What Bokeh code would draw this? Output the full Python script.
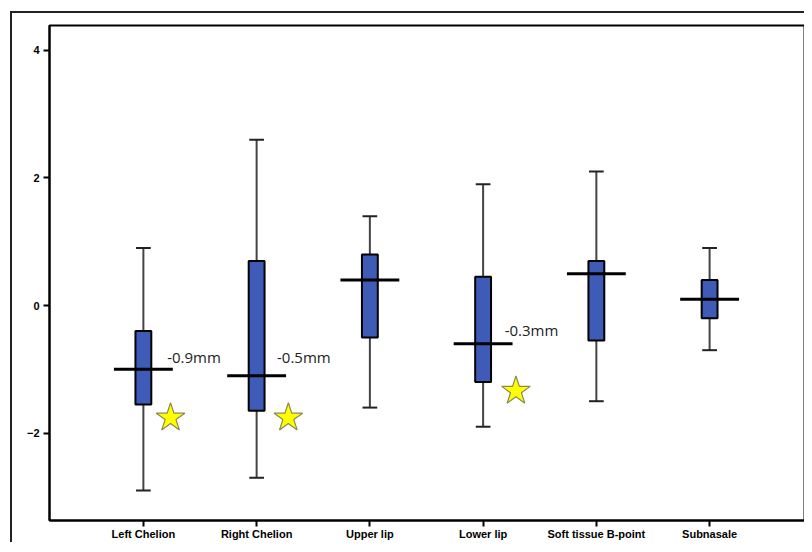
from bokeh.plotting import figure
from bokeh.models import FixedTicker, Range1d, ColumnDataSource
from bokeh.core.properties import value
from bokeh.embed import file_html
from bokeh.resources import INLINE

categories = ["Left Chelion", "Right Chelion", "Upper lip", "Lower lip", "Soft tissue B-point", "Subnasale"]
whisker_low = [-2.9, -2.7, -1.6, -1.9, -1.5, -0.7]
q1 = [-1.55, -1.65, -0.5, -1.2, -0.55, -0.2]
median = [-1.0, -1.1, 0.4, -0.6, 0.5, 0.1]
q3 = [-0.4, 0.7, 0.8, 0.45, 0.7, 0.4]
whisker_high = [0.9, 2.6, 1.4, 1.9, 2.1, 0.9]

label_texts = ["-0.9mm", "-0.5mm", "-0.3mm"]
label_x = [1.21, 2.18, 4.19]
label_y = [-0.8, -0.8, -0.39]

star_x = [1.24, 2.28, 4.29]
star_y = [-1.76, -1.76, -1.34]

y_ticks = [-2, 0, 2, 4]

xs = list(range(1, len(categories) + 1))
box_w = 0.14
cap_w = 0.13
med_w = 0.52

src = ColumnDataSource(dict(
    x=xs, lo=whisker_low, q1=q1, med=median, q3=q3, hi=whisker_high,
    cap_l=[x - cap_w / 2 for x in xs], cap_r=[x + cap_w / 2 for x in xs],
    med_l=[x - med_w / 2 for x in xs], med_r=[x + med_w / 2 for x in xs],
))

p = figure(width=794, height=531, output_backend="svg", toolbar_location=None,
           x_range=Range1d(0.171, 6.838), y_range=Range1d(-3.37, 4.39),
           min_border_left=37, min_border_right=2, min_border_top=12, min_border_bottom=24)
p.margin = (11, 0, 0, 10)
p.styles = {"border-top": "2px solid #222", "border-left": "2px solid #222", "box-sizing": "border-box"}

p.xgrid.visible = False
p.ygrid.visible = False
p.outline_line_color = "black"
p.outline_line_width = 2
p.background_fill_color = "white"
p.border_fill_color = "white"

# whiskers
p.segment(x0="x", y0="lo", x1="x", y1="q1", source=src, line_color="#444444", line_width=2)
p.segment(x0="x", y0="q3", x1="x", y1="hi", source=src, line_color="#444444", line_width=2)
p.segment(x0="cap_l", y0="lo", x1="cap_r", y1="lo", source=src, line_color="#222222", line_width=2)
p.segment(x0="cap_l", y0="hi", x1="cap_r", y1="hi", source=src, line_color="#222222", line_width=2)
# boxes
p.vbar(x="x", bottom="q1", top="q3", width=box_w, source=src,
       fill_color="#3E5BB8", line_color="black", line_width=2)
# medians
p.segment(x0="med_l", y0="med", x1="med_r", y1="med", source=src, line_color="black", line_width=3)

# annotations
p.text(x=label_x, y=label_y, text=label_texts, text_font=value("Open Sans"),
       text_font_size="15px", text_color="#222222", text_baseline="middle", text_align="left")
p.scatter(x=star_x, y=star_y, marker="star", size=30, fill_color="#FFFF00",
          line_color="#8a8a50", line_width=1.2)

for ax in (p.xaxis[0], p.yaxis[0]):
    ax.axis_line_width = 2
    ax.axis_line_color = "black"
    ax.major_tick_line_width = 2
    ax.major_tick_line_color = "black"
    ax.major_tick_out = 6
    ax.major_tick_in = 0
    ax.minor_tick_line_color = None
    ax.major_label_text_font = "Liberation Sans"
    ax.major_label_text_font_style = "bold"
    ax.major_label_text_color = "black"

p.xaxis.ticker = FixedTicker(ticks=xs)
p.xaxis.major_label_overrides = {x: c for x, c in zip(xs, categories)}
p.xaxis.major_label_text_font_size = "11px"
p.xaxis.major_label_standoff = 1
p.yaxis.ticker = FixedTicker(ticks=y_ticks)
p.yaxis.major_label_text_font_size = "11px"
p.yaxis.major_label_standoff = 4

open("out.html", "w").write(file_html(p, INLINE))
